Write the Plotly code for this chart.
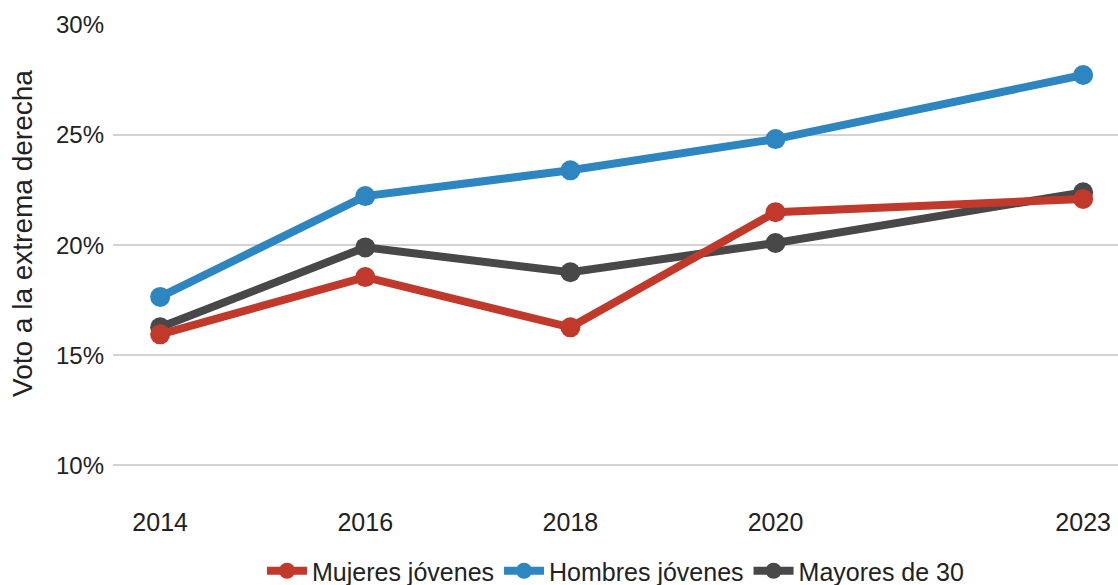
import plotly.graph_objects as go

years = [2014, 2016, 2018, 2020, 2023]
year_labels = ["2014", "2016", "2018", "2020", "2023"]
mujeres = [15.95, 18.55, 16.27, 21.5, 22.1]
hombres = [17.65, 22.23, 23.4, 24.82, 27.73]
mayores = [16.27, 19.9, 18.77, 20.1, 22.4]
y_ticks = [10, 15, 20, 25, 30]
y_tick_labels = ["10%", "15%", "20%", "25%", "30%"]
y_title = "Voto a la extrema derecha"

series = [
    ("Mayores de 30", mayores, "#484848", 3),
    ("Hombres jóvenes", hombres, "#2E86C1", 2),
    ("Mujeres jóvenes", mujeres, "#C0392B", 1),
]

W, H = 1118, 585
ML, MR, MT, MB = 113, 0, 25, 80

fig = go.Figure()
for name, vals, color, rank in series:
    fig.add_trace(go.Scatter(
        x=years, y=vals, name=name, mode="lines+markers",
        line=dict(color=color, width=8),
        marker=dict(color=color, size=20),
        legendrank=rank, cliponaxis=False,
    ))

plot_h = H - MT - MB
fig.update_layout(
    width=W, height=H,
    margin=dict(l=ML, r=MR, t=MT, b=MB, autoexpand=False),
    paper_bgcolor="white", plot_bgcolor="white",
    font=dict(family="Liberation Sans, Arial, sans-serif", size=25, color="#222222"),
    showlegend=True,
    legend=dict(orientation="h", x=0.5, xanchor="center",
                y=-(571 - (H - MB)) / plot_h, yanchor="middle",
                font=dict(size=25), itemwidth=40, traceorder="normal"),
    xaxis=dict(range=[2013.54, 2023.34], tickvals=years, ticktext=year_labels,
               showgrid=False, zeroline=False, showline=False, ticks="",
               tickfont=dict(size=25)),
    yaxis=dict(range=[8.2, 30], tickvals=y_ticks, ticktext=y_tick_labels,
               showgrid=True, gridcolor="#D3D3D3", gridwidth=2, zeroline=False,
               showline=False, ticks="", ticklabelstandoff=8, tickfont=dict(size=24)),
    annotations=[dict(
        text=y_title, textangle=-90, showarrow=False,
        xref="paper", yref="paper",
        x=(22 - ML) / (W - ML - MR), y=((H - MB) - 234) / plot_h,
        xanchor="center", yanchor="middle",
        font=dict(size=28, color="#222222"),
    )],
)

fig.write_html("out.html", config={"displayModeBar": False},
               post_script="document.body.style.margin='0';document.body.style.overflow='hidden';")
